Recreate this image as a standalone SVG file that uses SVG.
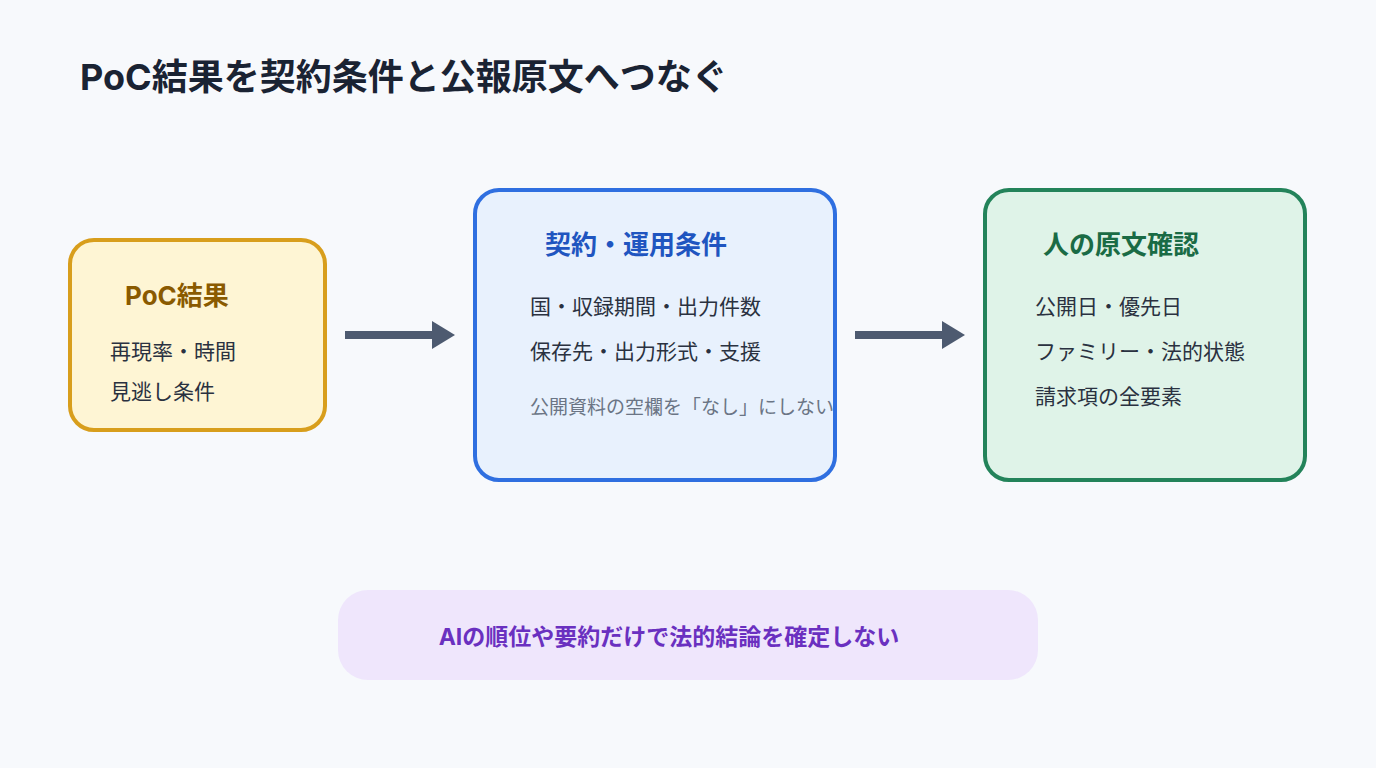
<svg xmlns="http://www.w3.org/2000/svg" width="1376" height="768" viewBox="0 0 1376 768">
<style>
text{font-family:"Inter","Noto Sans CJK JP",sans-serif}
.t{font-weight:700;font-size:26px}
.b{font-size:21px;fill:#2a3140}
.box{stroke-width:4}
.c{stroke:#4d5a70;stroke-width:8;fill:none}
</style>
<defs><marker id="ah" markerWidth="4" markerHeight="4" refX="1" refY="2" orient="auto" markerUnits="strokeWidth"><path d="M0,0 L3,1.75 L0,3.5 Z" transform="translate(0,0.25)" fill="#4d5a70"/></marker></defs>
<rect width="1376" height="768" fill="#f7f9fc"/>
<text x="80" y="90" font-size="36" font-weight="700" fill="#1a2333">PoC結果を契約条件と公報原文へつなぐ</text>
<g id="connectors">
<path class="c" d="M345,335 L434,335"/><path d="M432,321 L455,335 L432,349 Z" fill="#4d5a70"/>
<path class="c" d="M855,335 L944,335"/><path d="M942,321 L965,335 L942,349 Z" fill="#4d5a70"/>
</g>
<g id="poc">
<rect class="box" x="70" y="240" width="255" height="190" rx="24" fill="#fef5d4" stroke="#d89e1c"/>
<text class="t" x="125" y="305" fill="#8a5a00">PoC結果</text>
<text class="b" x="110" y="359">再現率・時間</text>
<text class="b" x="110" y="399">見逃し条件</text>
</g>
<g id="contract">
<rect class="box" x="475" y="190" width="360" height="290" rx="24" fill="#e8f1fd" stroke="#2f6fe0"/>
<text class="t" x="545" y="254" fill="#1f55c0">契約・運用条件</text>
<text class="b" x="530" y="314">国・収録期間・出力件数</text>
<text class="b" x="530" y="359">保存先・出力形式・支援</text>
<text x="530" y="414" font-size="19" fill="#6b7585">公開資料の空欄を「なし」にしない</text>
</g>
<g id="review">
<rect class="box" x="985" y="190" width="320" height="290" rx="24" fill="#dff3e8" stroke="#23835a"/>
<text class="t" x="1043" y="254" fill="#1a6b45">人の原文確認</text>
<text class="b" x="1035" y="314">公開日・優先日</text>
<text class="b" x="1035" y="359">ファミリー・法的状態</text>
<text class="b" x="1035" y="404">請求項の全要素</text>
</g>
<g id="note">
<rect x="338" y="590" width="700" height="90" rx="30" fill="#efe6fc"/>
<text x="669" y="645" text-anchor="middle" font-size="23" font-weight="700" fill="#6a30c0">AIの順位や要約だけで法的結論を確定しない</text>
</g>
</svg>
